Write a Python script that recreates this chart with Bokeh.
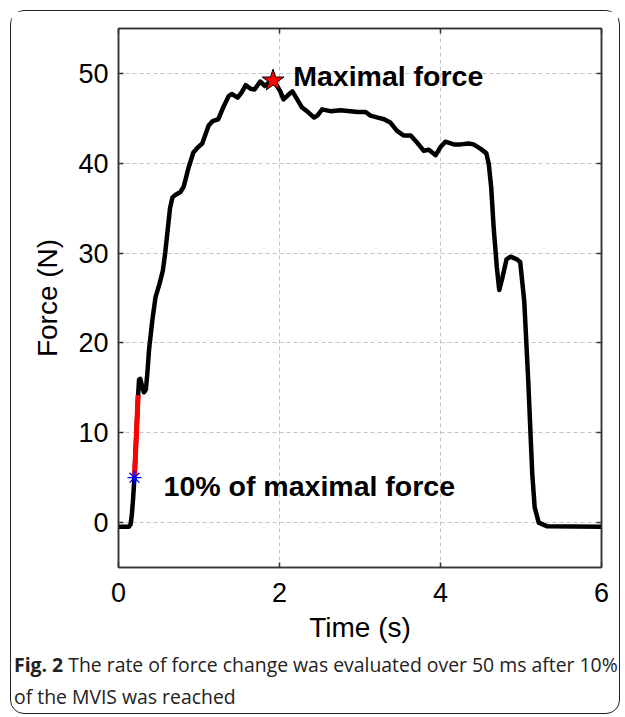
from bokeh.plotting import figure
from bokeh.models import LinearAxis, FixedTicker, Label, Range1d, Div
from bokeh.layouts import column
from bokeh.embed import file_html
from bokeh.resources import INLINE

# ---- data ----
time_s = [0.00, 0.13, 0.15, 0.165, 0.18, 0.198, 0.22, 0.244, 0.255, 0.27, 0.29, 0.315,
          0.34, 0.36, 0.38, 0.42, 0.46, 0.51, 0.55, 0.58, 0.61, 0.64, 0.67, 0.71, 0.77,
          0.81, 0.87, 0.93, 0.99, 1.04, 1.12, 1.17, 1.24, 1.30, 1.37, 1.41, 1.48, 1.53,
          1.58, 1.64, 1.69, 1.76, 1.82, 1.87, 1.92, 1.97, 2.01, 2.05, 2.12, 2.16, 2.22,
          2.28, 2.34, 2.43, 2.47, 2.53, 2.63, 2.76, 2.88, 2.97, 3.07, 3.13, 3.21, 3.30,
          3.38, 3.46, 3.54, 3.63, 3.70, 3.79, 3.855, 3.94, 4.00, 4.06, 4.165, 4.25, 4.35,
          4.41, 4.50, 4.57, 4.60, 4.63, 4.66, 4.70, 4.73, 4.77, 4.82, 4.87, 4.95, 4.99,
          5.04, 5.09, 5.14, 5.17, 5.22, 5.32, 6.00]
force_n = [-0.45, -0.45, -0.2, 0.8, 2.5, 5.0, 9.5, 14.2, 15.9, 16.0, 15.3, 14.5,
           14.8, 16.8, 19.3, 22.5, 25.1, 26.6, 28.0, 30.0, 32.5, 35.0, 36.2, 36.5, 36.8,
           37.4, 39.5, 41.2, 41.8, 42.2, 44.2, 44.7, 44.9, 46.2, 47.5, 47.7, 47.3, 47.9,
           48.7, 48.3, 48.2, 49.1, 48.6, 49.0, 49.2, 48.6, 48.0, 47.1, 47.7, 48.0, 47.1,
           46.2, 45.8, 45.1, 45.3, 46.0, 45.8, 45.9, 45.8, 45.7, 45.7, 45.3, 45.1, 44.9,
           44.5, 43.6, 43.1, 43.1, 42.4, 41.4, 41.5, 40.9, 41.8, 42.4, 42.1, 42.1, 42.2,
           42.1, 41.6, 41.1, 39.9, 37.3, 32.9, 28.4, 25.9, 27.3, 29.3, 29.6, 29.3, 29.0,
           24.7, 15.8, 5.4, 1.7, 0.0, -0.4, -0.45]

rfd_time = [0.198, 0.244]      # 50 ms window after 10 % of max
rfd_force = [5.0, 14.2]

onset_time = [0.198]           # 10 % of maximal force
onset_force = [5.0]

peak_time = [1.92]             # maximal force
peak_force = [49.2]

x_ticks = [0, 2, 4, 6]
y_ticks = [0, 10, 20, 30, 40, 50]

FONT = "Liberation Sans"

fig = figure(width=607, height=639, x_range=Range1d(0, 6), y_range=Range1d(-5, 55),
             output_backend="svg", toolbar_location=None,
             min_border_left=107, min_border_right=17, min_border_top=17, min_border_bottom=83,
             background_fill_color="white", border_fill_color="white", margin=0)

fig.outline_line_color = "#333333"
fig.outline_line_width = 1.5

for ax in fig.xaxis + fig.yaxis:
    ax.major_label_text_font = FONT
    ax.major_label_text_font_size = "27px"
    ax.major_label_text_color = "black"
    ax.axis_label_text_font = FONT
    ax.axis_label_text_font_size = "28px"
    ax.axis_label_text_font_style = "normal"
    ax.axis_label_text_color = "black"
    ax.major_tick_in = 5
    ax.major_tick_out = 0
    ax.minor_tick_line_color = None
    ax.axis_line_color = "#333333"
    ax.axis_line_width = 1.5
    ax.major_tick_line_color = "#333333"
    ax.major_tick_line_width = 1.5

fig.xaxis.ticker = FixedTicker(ticks=x_ticks)
fig.yaxis.ticker = FixedTicker(ticks=y_ticks)
fig.xaxis.axis_label = "Time (s)"
fig.yaxis.axis_label = "Force (N)"
fig.xaxis.major_label_standoff = 15
fig.xaxis.axis_label_standoff = 7
fig.yaxis.major_label_standoff = 10
fig.yaxis.axis_label_standoff = 12

for loc, tk in (("right", y_ticks), ("above", x_ticks)):
    ax = LinearAxis(ticker=FixedTicker(ticks=tk), major_label_text_font_size="1px",
                    major_label_text_color=None,
                    major_label_standoff=0, major_tick_in=5, major_tick_out=0,
                    minor_tick_line_color=None, axis_line_color="#333333",
                    axis_line_width=1.5, major_tick_line_color="#333333",
                    major_tick_line_width=1.5)
    fig.add_layout(ax, loc)

fig.grid.grid_line_color = "#c4c4c4"
fig.grid.grid_line_dash = "4 3"
fig.grid.grid_line_width = 1

fig.line(time_s, force_n, line_color="black", line_width=4.5, line_join="round")
fig.line(rfd_time, rfd_force, line_color="red", line_width=5)
fig.scatter(onset_time, onset_force, marker="asterisk", size=14, line_color="blue", line_width=1.3)
fig.scatter(peak_time, peak_force, marker="star", size=23, fill_color="red",
            line_color="black", line_width=1)

fig.add_layout(Label(x=2.17, y=49.7, text="Maximal force", text_font=FONT,
                     text_font_size="28.5px", text_font_style="bold", text_color="black",
                     text_baseline="alphabetic"))
fig.add_layout(Label(x=0.56, y=4.1, text="10% of maximal force", text_font=FONT,
                     text_font_size="28.5px", text_font_style="bold", text_color="black",
                     text_baseline="alphabetic"))

caption = Div(
    text=('<div style="font-family:\'Open Sans\';font-size:19.4px;line-height:32px;'
          'color:#222;padding-left:3px;margin-top:-1px;white-space:nowrap;">'
          '<b>Fig. 2</b> The rate of force change was evaluated over 50 ms after 10%<br>'
          'of the MVIS was reached</div>'),
    width=607, height=62, margin=0)

page = column(fig, caption, spacing=0, margin=(10, 0, 0, 10),
              width=610, height=704, sizing_mode="fixed",
              styles={"border": "1.5px solid #222", "border-radius": "14px",
                      "background": "white"})

open("out.html", "w").write(file_html(page, INLINE))
